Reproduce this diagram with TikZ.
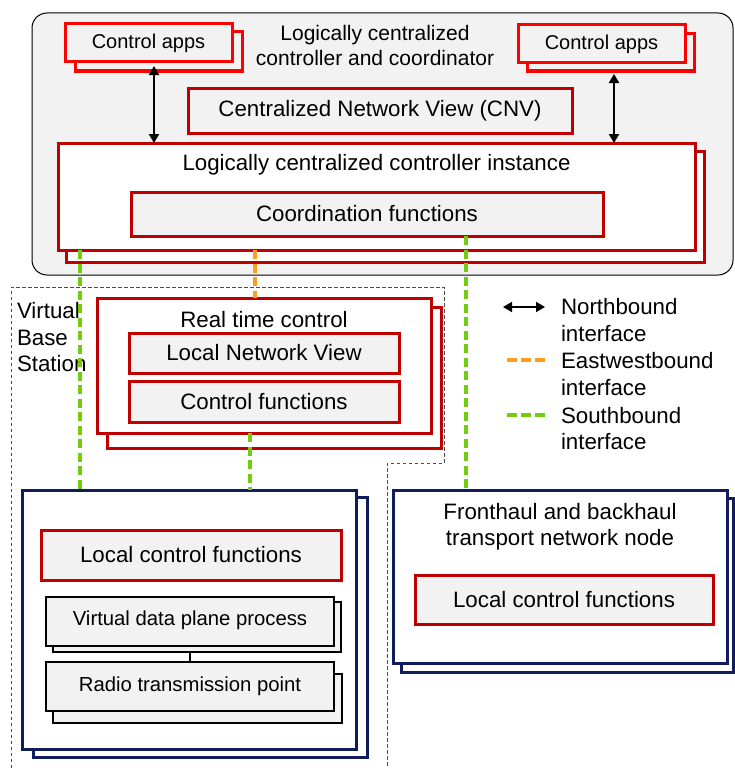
\documentclass[tikz,border=0pt]{standalone}
\usepackage{fontspec}
\setmainfont{Liberation Sans}
\usetikzlibrary{arrows.meta,calc}
\definecolor{brightred}{HTML}{FF0000}
\definecolor{darkred}{HTML}{C00000}
\definecolor{navyblue}{HTML}{101C5C}
\definecolor{lightgray}{HTML}{F2F2F2}
\definecolor{sbgreen}{HTML}{72CC10}
\definecolor{eworange}{HTML}{FF9E1B}
\begin{document}
\begin{tikzpicture}[x=1pt,y=-1pt,
  mainfont/.style={font=\fontsize{22.3}{26.5}\selectfont},
  box/.style={draw, inner sep=0pt, outer sep=0pt, line width=3pt, mainfont},
  appbox/.style={box, draw=brightred, fill=lightgray, font=\fontsize{20}{24}\selectfont},
  redgray/.style={box, draw=darkred, fill=lightgray},
  redwhite/.style={box, draw=darkred, fill=white},
  navybox/.style={box, draw=navyblue, fill=white},
  blackbox/.style={box, draw=black, fill=lightgray, line width=2.8pt, font=\fontsize{20.3}{24}\selectfont},
  txt/.style={inner sep=0pt, outer sep=0pt, mainfont},
  sbline/.style={draw=sbgreen, line width=3.2pt, dash pattern=on 9pt off 4.5pt},
  ewline/.style={draw=eworange, line width=3.2pt, dash pattern=on 9pt off 4.5pt},
  nbline/.style={line width=2.2pt, {Triangle[length=9pt,width=10pt]}-{Triangle[length=9pt,width=10pt]}},
  vbsline/.style={draw=black!70, line width=0.9pt, dash pattern=on 3.5pt off 2.5pt}
]
\useasboundingbox (0,0) rectangle (734,768);

% outer controller region
\draw[line width=1pt, fill=lightgray, rounded corners=15pt] (32,13) rectangle (733,275);
\node[txt, align=center, font=\fontsize{21}{25}\selectfont] (title) at (375,45.5) {Logically centralized\\controller and coordinator};

% control apps
\node[appbox, minimum width=167, minimum height=39] (ca1b) at (158.5,51.5) {};
\node[appbox, minimum width=167, minimum height=38] (ca1) at (148.5,43) {Control apps};
\node[appbox, minimum width=167, minimum height=37] (ca2b) at (610.5,52.5) {};
\node[appbox, minimum width=167, minimum height=38] (ca2) at (601.5,44) {Control apps};

% CNV
\node[redgray, minimum width=384, minimum height=45] (cnv) at (380,110.5) {Centralized Network View (CNV)};

% controller instance
\node[redwhite, minimum width=638, minimum height=111] (cib) at (385,206.5) {};
\node[redwhite, minimum width=637, minimum height=107] (ci) at (376.5,196.5) {};
\node[txt] (cititle) at (376.5,165) {Logically centralized controller instance};
\node[redgray, minimum width=472, minimum height=44] (cf) at (367,214) {Coordination functions};

% northbound arrows
\draw[nbline] ($(154,0 |- ca1.south)+(0,4)$) -- (154,0 |- ci.north);
\draw[nbline] ($(614,0 |- ca2b.south)+(0,3)$) -- (614,0 |- ci.north);

% virtual base station region
\draw[vbsline] (11,768) -- (11,287) -- (444,287) -- (444,463) -- (387,463) -- (387,768);
\node[txt, align=left, anchor=north west] (vbslabel) at (17,302.5) {Virtual\\Base\\Station};

% real time control
\node[redwhite, minimum width=334, minimum height=141] (rtcb) at (274,377.5) {};
\node[redwhite, minimum width=334, minimum height=135] (rtc) at (264,365.5) {};
\node[txt] (rtctitle) at (264,320) {Real time control};
\node[redgray, minimum width=270, minimum height=40] (lnv) at (264,353) {Local Network View};
\node[redgray, minimum width=270, minimum height=41] (ctf) at (264,401.5) {Control functions};

% VBS node
\node[navybox, minimum width=334, minimum height=260] (vbsb) at (200,627) {};
\node[navybox, minimum width=334, minimum height=259] (vbs) at (189,619.5) {};
\node[redgray, minimum width=300, minimum height=50] (lcf1) at (191,555) {Local control functions};
\node[blackbox, minimum width=288, minimum height=50] (vdpb) at (197,627) {};
\node[blackbox, minimum width=288, minimum height=49, text depth=7pt] (vdp) at (190,621.5) {Virtual data plane process};
\node[blackbox, minimum width=289, minimum height=49] (rtpb) at (197.5,698.5) {};
\node[blackbox, minimum width=288, minimum height=49, text depth=5pt] (rtp) at (190,686.5) {Radio transmission point};
\draw[line width=2.6pt] (vdpb.south -| rtp.north) -- (rtp.north);

% fronthaul node
\node[navybox, minimum width=332, minimum height=174] (fhb) at (567,585) {};
\node[navybox, minimum width=334, minimum height=173] (fh) at (560,576.5) {};
\node[txt, align=center] (fhtitle) at (560,526.5) {Fronthaul and backhaul\\transport network node};
\node[redgray, minimum width=298, minimum height=49] (lcf2) at (564,599.5) {Local control functions};

% interfaces
\draw[sbline] (80,0 |- ci.south) -- (80,0 |- vbs.north);
\draw[ewline] (255,0 |- ci.south) -- (255,0 |- rtc.north);
\draw[sbline] (250,0 |- rtc.south) -- (250,0 |- vbs.north);
\draw[sbline] (466,0 |- cf.south) -- (466,0 |- fh.north);

% legend
\coordinate (l1a) at (503,307);
\coordinate (l1b) at (545,307);
\draw[nbline, line width=1.8pt] (l1a) -- (l1b);
\node[txt, align=left, anchor=west] (lg1) at (561,320) {Northbound\\interface};
\coordinate (l2a) at (507,360);
\coordinate (l2b) at (545,360);
\draw[ewline, dash pattern=on 10pt off 4pt] (l2a) -- (l2b);
\node[txt, align=left, anchor=west] (lg2) at (561,374) {Eastwestbound\\interface};
\coordinate (l3a) at (507,415);
\coordinate (l3b) at (545,415);
\draw[sbline, dash pattern=on 10pt off 4pt] (l3a) -- (l3b);
\node[txt, align=left, anchor=west] (lg3) at (561,428.5) {Southbound\\interface};
\end{tikzpicture}
\end{document}
